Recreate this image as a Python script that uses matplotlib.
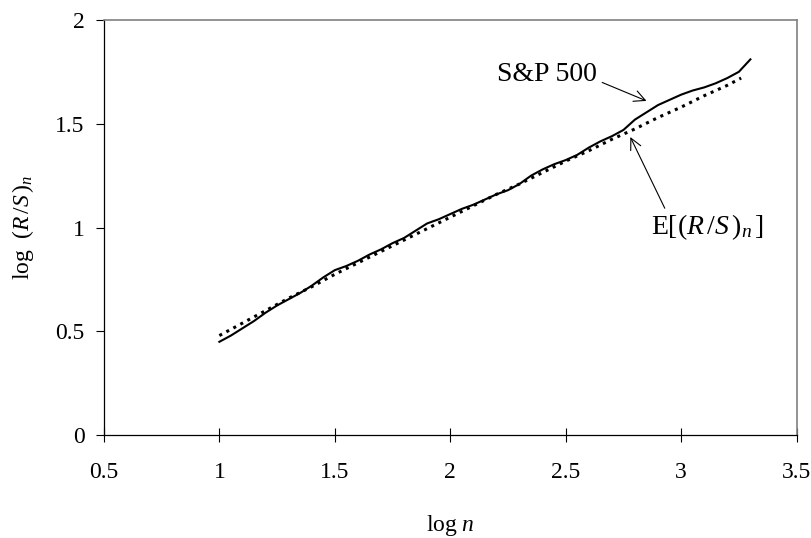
import matplotlib
matplotlib.use("Agg")
import matplotlib.pyplot as plt

plt.rcParams["font.family"] = ["Liberation Serif", "DejaVu Serif"]
plt.rcParams["mathtext.fontset"] = "custom"
plt.rcParams["mathtext.rm"] = "Liberation Serif"
plt.rcParams["mathtext.it"] = "Liberation Serif:italic"

# log n and log (R/S)_n for the S&P 500 series
sp_log_n = [1.00, 1.05, 1.10, 1.15, 1.20, 1.25, 1.30, 1.35, 1.40, 1.45,
            1.50, 1.55, 1.60, 1.65, 1.70, 1.75, 1.80, 1.85, 1.90, 1.95,
            2.00, 2.05, 2.10, 2.15, 2.20, 2.25, 2.30, 2.35, 2.40, 2.45,
            2.50, 2.55, 2.60, 2.65, 2.70, 2.75, 2.80, 2.85, 2.90, 2.95,
            3.00, 3.05, 3.10, 3.15, 3.20, 3.25, 3.30]
sp_log_rs = [0.450, 0.480, 0.515, 0.550, 0.590, 0.625, 0.655, 0.685, 0.720, 0.760,
             0.795, 0.815, 0.840, 0.870, 0.895, 0.925, 0.950, 0.985, 1.020, 1.040,
             1.065, 1.090, 1.110, 1.135, 1.160, 1.180, 1.210, 1.250, 1.280, 1.305,
             1.325, 1.350, 1.385, 1.415, 1.440, 1.470, 1.520, 1.555, 1.590, 1.615,
             1.640, 1.660, 1.675, 1.695, 1.720, 1.750, 1.810]

# expected value E[(R/S)_n]
exp_log_n = [1.00, 1.10, 1.20, 1.30, 1.40, 1.50, 1.60, 1.70, 1.80, 1.90,
             2.00, 2.10, 2.20, 2.30, 2.40, 2.50, 2.60, 2.70, 2.80, 2.90,
             3.00, 3.10, 3.20, 3.26]
exp_log_rs = [0.480, 0.540, 0.600, 0.660, 0.715, 0.775, 0.830, 0.885, 0.940, 0.995,
              1.050, 1.105, 1.160, 1.210, 1.265, 1.320, 1.370, 1.425, 1.475, 1.530,
              1.580, 1.635, 1.685, 1.720]

x_ticks = [0.5, 1, 1.5, 2, 2.5, 3, 3.5]
x_tick_labels = ["0.5", "1", "1.5", "2", "2.5", "3", "3.5"]
y_ticks = [0, 0.5, 1, 1.5, 2]
y_tick_labels = ["0", "0.5", "1", "1.5", "2"]

fig = plt.figure(figsize=(8.12, 5.38), dpi=100)
ax = fig.add_axes([0.128, 0.191, 0.853, 0.772])

ax.plot(sp_log_n, sp_log_rs, color="black", lw=1.5, solid_joinstyle="round")
ax.plot(exp_log_n, exp_log_rs, color="black", lw=2.2,
        linestyle=(0, (1.0, 1.6)), dash_capstyle="butt")

ax.set_xlim(0.5, 3.5)
ax.set_ylim(0, 2)
ax.set_xticks(x_ticks)
ax.set_xticklabels(x_tick_labels)
ax.set_yticks(y_ticks)
ax.set_yticklabels(y_tick_labels)
ax.tick_params(axis="x", direction="inout", length=10, width=0.8,
               labelsize=17, pad=14, colors="black")
ax.tick_params(axis="y", direction="out", length=6, width=0.8,
               labelsize=17, pad=8)

for side in ("top", "right"):
    ax.spines[side].set_color("#808080")
    ax.spines[side].set_linewidth(1.2)
for side in ("left", "bottom"):
    ax.spines[side].set_color("black")
    ax.spines[side].set_linewidth(0.9)

ax.set_xlabel(r"$\mathrm{log}\ n$", fontsize=17, labelpad=22)
ax.set_ylabel(r"$\mathrm{log}\ \ (R\,/S\,)_n$", fontsize=17, labelpad=14)

ax.annotate("S&P 500", xy=(2.85, 1.61), xytext=(2.42, 1.735),
            fontsize=20, ha="center", va="center",
            arrowprops=dict(arrowstyle="->", color="black", lw=0.8,
                            shrinkA=0, shrinkB=0,
                            relpos=(1.05, 0.2)))
ax.annotate(r"$\mathrm{E}[(R\,/S\,)_n\,]$", xy=(2.78, 1.436), xytext=(3.115, 1.0),
            fontsize=20, ha="center", va="center",
            arrowprops=dict(arrowstyle="->", color="black", lw=0.8,
                            shrinkA=0, shrinkB=0,
                            relpos=(0.12, 1.15)))

fig.savefig("out.png", dpi=100)
